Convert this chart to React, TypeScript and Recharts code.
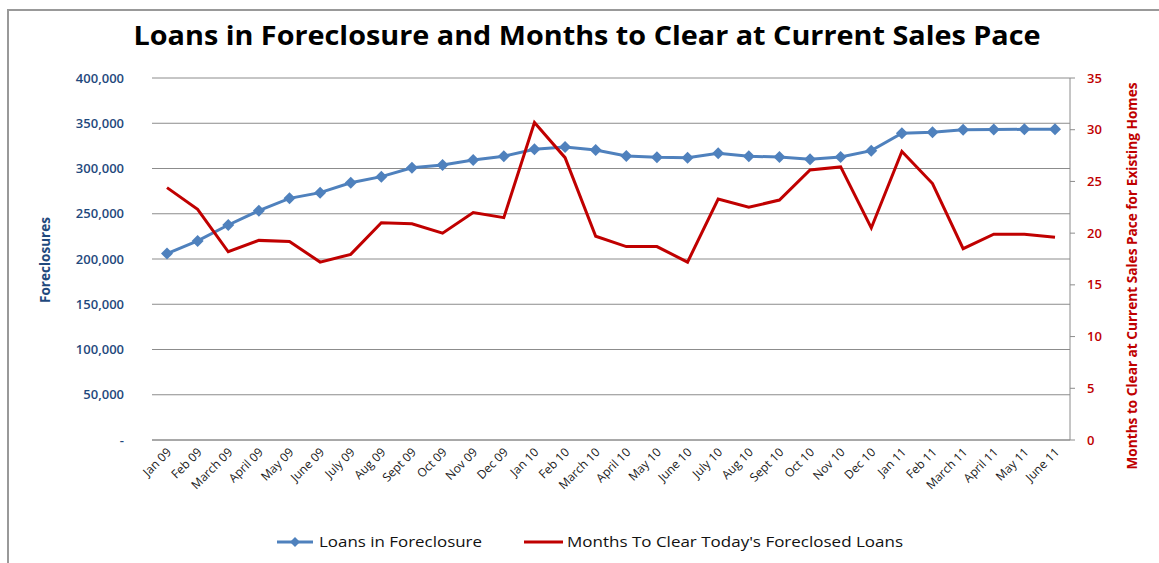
import { LineChart, Line, XAxis, YAxis, CartesianGrid } from 'recharts'

const months = [
  'Jan 09', 'Feb 09', 'March 09', 'April 09', 'May 09', 'June 09', 'July 09', 'Aug 09', 'Sept 09', 'Oct 09',
  'Nov 09', 'Dec 09', 'Jan 10', 'Feb 10', 'March 10', 'April 10', 'May 10', 'June 10', 'July 10', 'Aug 10',
  'Sept 10', 'Oct 10', 'Nov 10', 'Dec 10', 'Jan 11', 'Feb 11', 'March 11', 'April 11', 'May 11', 'June 11',
]

const loansInForeclosure = [
  206000, 220000, 237600, 253400, 267000, 273300, 284300, 291000, 300900, 303900,
  309400, 313500, 321200, 323800, 320400, 313800, 312300, 312000, 316800, 313500,
  312700, 310100, 312700, 319700, 338900, 340000, 342900, 343000, 343300, 343300,
]

const monthsToClear = [
  24.4, 22.3, 18.2, 19.3, 19.2, 17.2, 17.95, 21.0, 20.9, 20.0,
  22.0, 21.5, 30.7, 27.3, 19.7, 18.7, 18.7, 17.2, 23.3, 22.5,
  23.2, 26.1, 26.4, 20.5, 27.9, 24.8, 18.5, 19.9, 19.9, 19.6,
]

const leftTicks = [0, 50000, 100000, 150000, 200000, 250000, 300000, 350000, 400000]
const rightTicks = [0, 5, 10, 15, 20, 25, 30, 35]

const BLUE = '#4F81BD'
const RED = '#C00000'
const NAVY = '#1F497D'
const GRID = '#8C8C8C'
const FONT = '"Open Sans", sans-serif'

const data = months.map((m, i) => ({ month: m, loans: loansInForeclosure[i], months: monthsToClear[i] }))

const fmtLeft = (v: number) => (v === 0 ? '-' : v.toLocaleString('en-US'))

function Diamond(props: any) {
  const { cx, cy } = props
  if (cx == null || cy == null) return null
  const r = 6
  return <polygon points={`${cx},${cy - r} ${cx + r},${cy} ${cx},${cy + r} ${cx - r},${cy}`} fill={BLUE} />
}

function MonthTick(props: any) {
  const { x, y, payload } = props
  const tx = x + 5
  const ty = y + 5
  return (
    <text x={tx} y={ty} transform={`rotate(-45, ${tx}, ${ty})`} textAnchor="end" fontSize={12} fill="#1a1a1a" fontFamily={FONT}>
      {payload.value}
    </text>
  )
}

export default function App() {
  return (
    <div style={{ position: 'absolute', left: 0, top: 0, width: 1159, height: 563, background: '#fff', overflow: 'hidden' }}>
      <div style={{ position: 'absolute', left: 7, top: 9, width: 1170, height: 580, borderTop: '2px solid #999', borderLeft: '2px solid #999' }} />
      <div style={{ position: 'absolute', left: 0, top: 0 }}>
        <LineChart width={1159} height={563} data={data} margin={{ top: 78, right: 0, bottom: 53, left: 0 }}>
          <CartesianGrid yAxisId="left" vertical={false} stroke={GRID} />
          <XAxis
            dataKey="month"
            height={70}
            interval={0}
            padding={{ left: 15, right: 15 }}
            axisLine={{ stroke: GRID }}
            tickLine={false}
            tick={<MonthTick />}
          />
          <YAxis
            yAxisId="left"
            orientation="left"
            width={152}
            domain={[0, 400000]}
            ticks={leftTicks}
            tickFormatter={fmtLeft}
            axisLine={false}
            tickLine={false}
            tickSize={0}
            tickMargin={28}
            tick={{ fill: NAVY, fontSize: 13, fontWeight: 600, fontFamily: FONT }}
          />
          <YAxis
            yAxisId="right"
            orientation="right"
            width={89}
            domain={[0, 35]}
            ticks={rightTicks}
            axisLine={{ stroke: GRID }}
            tickLine={{ stroke: GRID }}
            tickSize={5}
            tickMargin={12}
            tick={{ fill: RED, fontSize: 13, fontWeight: 600, fontFamily: FONT, textAnchor: 'start' }}
          />
          <Line
            yAxisId="left"
            dataKey="loans"
            stroke={BLUE}
            strokeWidth={3}
            dot={<Diamond />}
            activeDot={false}
            isAnimationActive={false}
          />
          <Line
            yAxisId="right"
            dataKey="months"
            stroke={RED}
            strokeWidth={3}
            dot={false}
            activeDot={false}
            isAnimationActive={false}
          />
        </LineChart>
      </div>
      <svg width={1159} height={563} style={{ position: 'absolute', left: 0, top: 0, pointerEvents: 'none' }}>
        <text x={587} y={45} textAnchor="middle" fontFamily={FONT} fontWeight={700} fontSize={27} fill="#000"
          textLength={907} lengthAdjust="spacingAndGlyphs">
          Loans in Foreclosure and Months to Clear at Current Sales Pace
        </text>
        <text transform="translate(50,260) rotate(-90)" textAnchor="middle" fontFamily={FONT} fontWeight={700}
          fontSize={15} fill={NAVY} textLength={86} lengthAdjust="spacingAndGlyphs">
          Foreclosures
        </text>
        <text transform="translate(1137,276) rotate(-90)" textAnchor="middle" fontFamily={FONT} fontWeight={700}
          fontSize={14} fill={RED} textLength={387} lengthAdjust="spacingAndGlyphs">
          Months to Clear at Current Sales Pace for Existing Homes
        </text>
        <line x1={277} y1={542} x2={313} y2={542} stroke={BLUE} strokeWidth={3} />
        <polygon points="295,537 300,542 295,547 290,542" fill={BLUE} />
        <text x={319} y={547} fontFamily={FONT} fontWeight={500} fontSize={15} fill="#111" textLength={163} lengthAdjust="spacingAndGlyphs">
          Loans in Foreclosure
        </text>
        <line x1={524} y1={542} x2={563} y2={542} stroke={RED} strokeWidth={3} />
        <text x={567} y={547} fontFamily={FONT} fontWeight={500} fontSize={15} fill="#111" textLength={336} lengthAdjust="spacingAndGlyphs">
          Months To Clear Today's Foreclosed Loans
        </text>
      </svg>
    </div>
  )
}
